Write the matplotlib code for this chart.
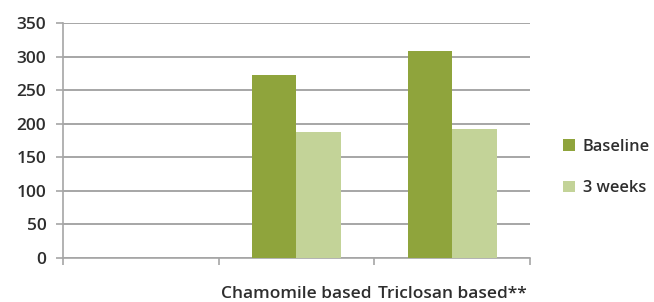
import matplotlib.pyplot as plt
import numpy as np

# Dane z wykresu
categories = ["", "Chamomile based", "Triclosan based**"]
baseline = [0, 273, 308]
weeks3 = [0, 188, 192]
series_names = ["Baseline", "3 weeks"]

plt.rcParams["font.family"] = ["Open Sans", "DejaVu Sans"]
plt.rcParams["font.weight"] = 600

fig = plt.figure(figsize=(6.54, 3.02), dpi=100)
ax = fig.add_axes([0.0963, 0.1457, 0.7141, 0.7781])

x = np.arange(len(categories))
w = 0.286
dark = "#8fa43c"
light = "#c3d398"
ax.bar(x - w / 2, baseline, w, color=dark, label=series_names[0], zorder=3)
ax.bar(x + w / 2, weeks3, w, color=light, label=series_names[1], zorder=3)

ax.set_xlim(-0.5, len(categories) - 0.5)
ax.set_ylim(0, 350)
ax.set_yticks(range(0, 351, 50))
ax.yaxis.grid(True, color="#a6a6a6", linewidth=1.4, zorder=0)

ax.set_xticks(x)
ax.set_xticklabels(categories)
ax.set_xticks(np.arange(-0.5, len(categories), 1.0), minor=True)
ax.tick_params(axis="x", which="major", length=0, pad=20, labelsize=12.5, labelcolor="#2e2e2e")
ax.tick_params(axis="x", which="minor", length=5, color="#a6a6a6", width=1.2)
ax.tick_params(axis="y", length=5, color="#a6a6a6", width=1.2, pad=7, labelsize=12.5, labelcolor="#2e2e2e")

for s in ["top", "right"]:
    ax.spines[s].set_visible(False)
for s in ["left", "bottom"]:
    ax.spines[s].set_color("#a6a6a6")
    ax.spines[s].set_linewidth(1.2)

ax.legend(loc="center left", bbox_to_anchor=(1.04, 0.385), frameon=False,
          handlelength=0.72, handleheight=0.72, handletextpad=0.45,
          labelspacing=1.55, fontsize=11.8, labelcolor="#2e2e2e")

fig.savefig("out.png", dpi=100)
